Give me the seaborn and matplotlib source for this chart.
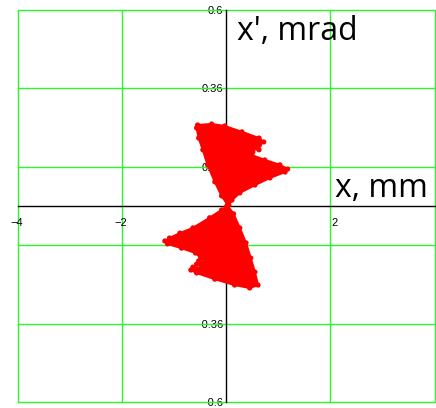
import matplotlib
matplotlib.use('Agg')
import matplotlib.pyplot as plt
import seaborn as sns
import pandas as pd

sns.set_style('white')
plt.rcParams['font.family'] = ['Liberation Sans', 'DejaVu Sans']
plt.rcParams['text.color'] = 'black'
plt.rcParams['xtick.color'] = 'black'
plt.rcParams['ytick.color'] = 'black'

# phase space outline of the beam, upper lobe (x in mm, x' in mrad)
upper_x = [0.03, -0.09, -0.22, -0.36, -0.45, -0.53, -0.57, -0.55, -0.28, -0.03,
           0.30, 0.63, 0.72, 0.64, 0.36, 0.61, 0.63, 0.41, 0.51, 0.49,
           0.74, 1.03, 1.18, 1.13, 0.84, 0.55, 0.26, 0.11, 0.05]
upper_y = [0.003, 0.031, 0.074, 0.126, 0.172, 0.208, 0.239, 0.248, 0.251, 0.245,
           0.227, 0.208, 0.196, 0.187, 0.193, 0.181, 0.172, 0.175, 0.165, 0.156,
           0.141, 0.126, 0.113, 0.104, 0.086, 0.064, 0.040, 0.018, 0.003]

# lower lobe
lower_x = [0.03, 0.14, 0.26, 0.38, 0.47, 0.55, 0.61, 0.45, 0.16, -0.22,
           -0.57, -0.68, -0.64, -0.41, -0.57, -0.53, -0.36, -0.49, -0.59, -0.86,
           -1.13, -1.18, -1.09, -0.89, -0.64, -0.32, -0.09, 0.01]
lower_y = [0.0, -0.024, -0.067, -0.113, -0.159, -0.202, -0.242, -0.251, -0.242, -0.224,
           -0.205, -0.196, -0.187, -0.190, -0.178, -0.168, -0.172, -0.159, -0.144, -0.129,
           -0.116, -0.107, -0.098, -0.083, -0.067, -0.036, -0.012, 0.0]

x_ticks = [-4, -2, 0, 2, 4]
x_tick_labels = ['\u22124', '\u22122', '0', '2', '']  # label of 4 falls outside the picture
y_ticks = [0.6, 0.36, 0.12, -0.12, -0.36, -0.6]
y_tick_labels = ['0.6', '0.36', '0.12', '\u2212 0.12', '\u2212 0.36', '\u2212 0.6']

fig = plt.figure(figsize=(4.36, 4.08), dpi=100)
ax = fig.add_axes([18 / 436, 6 / 408, 416.5 / 436, 392 / 408])
ax.set_xlim(-4, 4)
ax.set_ylim(-0.6, 0.6)

green = '#2cf52c'
for gx in [-4, -2, 2, 4]:
    ax.axvline(gx, color=green, lw=1.0, zorder=1, clip_on=False)
for gy in y_ticks:
    ax.axhline(gy, color=green, lw=1.0, zorder=1, clip_on=False)

# axes crossing at the origin
for side in ['top', 'right']:
    ax.spines[side].set_visible(False)
for side in ['left', 'bottom']:
    ax.spines[side].set_position('zero')
    ax.spines[side].set_color('black')
    ax.spines[side].set_linewidth(1.0)
    ax.spines[side].set_zorder(2)

ax.set_xticks(x_ticks)
ax.set_xticklabels([''] * len(x_ticks))
ax.set_yticks(y_ticks)
ax.set_yticklabels(y_tick_labels)
ax.tick_params(axis='both', direction='inout', length=5, width=1, color='black',
               labelsize=8, pad=0, labelcolor='black')

for xv, lbl in zip(x_ticks, x_tick_labels):
    if not lbl:
        continue
    dx = -5.5 if lbl.startswith('\u2212') else 1
    ax.annotate(lbl, xy=(xv, 0), xytext=(dx, -9), textcoords='offset points',
                ha='left', va='top', fontsize=8, zorder=1.5, annotation_clip=False)

# beam particles
ax.fill(upper_x, upper_y, color='red', lw=1.5, joinstyle='round', zorder=3)
ax.fill(lower_x, lower_y, color='red', lw=1.5, joinstyle='round', zorder=3)
df = pd.DataFrame({'x': upper_x + lower_x, 'xp': upper_y + lower_y})
sns.scatterplot(data=df, x='x', y='xp', color='red', s=14, edgecolor='none',
                zorder=4, ax=ax, legend=False)
ax.set_xlabel('')
ax.set_ylabel('')

fig.text(237 / 436, 1 - 40 / 408, "x', mrad", fontsize=23, family='Open Sans',
         va='baseline', color='black')
fig.text(335 / 436, 1 - 197 / 408, 'x, mm', fontsize=23, family='Open Sans',
         va='baseline', color='black')

fig.savefig('out.png', dpi=100)
